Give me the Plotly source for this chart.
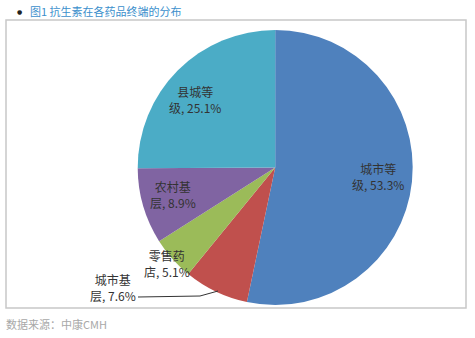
import plotly.graph_objects as go

# Share of antibiotic sales by drug terminal (%)
terminals = ["城市等级", "城市基层", "零售药店", "农村基层", "县城等级"]
shares = [53.3, 7.6, 5.1, 8.9, 25.1]
colors = ["#4f81bd", "#c0504d", "#9bbb59", "#8064a2", "#4bacc6"]

title_text = "图1 抗生素在各药品终端的分布"
source_text = "数据来源：中康CMH"

W, H = 475, 338

# Label anchor points (pixels from top-left) for each slice's data label
label_px = [(378, 176), (113, 287), (167, 263), (173, 194), (195, 100)]

fig = go.Figure()
fig.add_trace(go.Pie(
    labels=terminals,
    values=shares,
    sort=False,
    direction="clockwise",
    rotation=0,
    marker=dict(colors=colors, line=dict(width=0)),
    textinfo="none",
    hoverinfo="label+value",
    showlegend=False,
    domain=dict(x=[137.7 / W, 412.7 / W], y=[33 / H, 308 / H]),
))

# Data labels: name split over two lines with the share
for name, val, (px, py) in zip(terminals, shares, label_px):
    fig.add_annotation(
        x=px / W, y=1 - py / H, xref="paper", yref="paper",
        xanchor="center", yanchor="middle",
        text=f"{name[:3]}<br>{name[3:]}, {val:.1f}%",
        showarrow=False, align="center",
        font=dict(family="Noto Sans CJK SC", size=12, color="#333333"),
    )

# Leader line for the small outside label
fig.add_shape(type="path", xref="paper", yref="paper",
              path=f"M {138/W},{1-297/H} L {200/W},{1-296/H} L {218/W},{1-291/H}",
              line=dict(color="#333333", width=1))

# Frame around the chart
fig.add_shape(type="rect", xref="paper", yref="paper",
              x0=6 / W, x1=466 / W, y0=1 - 308 / H, y1=1 - 20 / H,
              line=dict(color="#c8c8c8", width=1.5), layer="below")

# Heading with bullet
fig.add_annotation(x=15 / W, y=1 - 11 / H, xref="paper", yref="paper",
                   text="●", showarrow=False, xanchor="left", yanchor="middle",
                   font=dict(family="DejaVu Sans", size=6, color="#222222"))
fig.add_annotation(x=28 / W, y=1 - 11 / H, xref="paper", yref="paper",
                   text=title_text, showarrow=False, xanchor="left", yanchor="middle",
                   font=dict(family="Noto Sans CJK SC", size=11, color="#3b8fcc"))

# Source note
fig.add_annotation(x=4 / W, y=1 - 324 / H, xref="paper", yref="paper",
                   text=source_text, showarrow=False, xanchor="left", yanchor="middle",
                   font=dict(family="Noto Sans CJK SC", size=11, color="#a8a8a8"))

fig.update_layout(
    width=W, height=H,
    margin=dict(l=0, r=0, t=0, b=0),
    paper_bgcolor="white", plot_bgcolor="white",
)

fig.write_html("out.html")
